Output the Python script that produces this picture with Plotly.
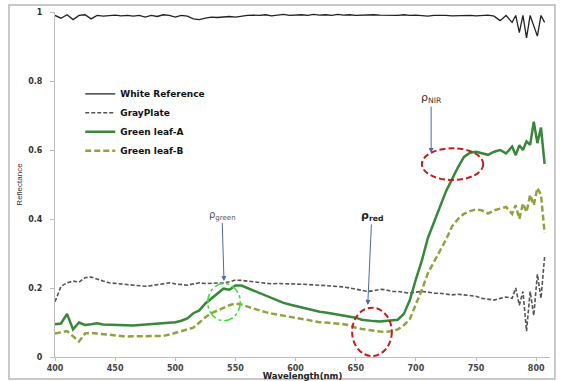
import plotly.graph_objects as go

wavelength = [400, 405, 410, 415, 420, 425, 430, 435, 440, 445, 450, 455, 460, 465, 470, 475,
              480, 485, 490, 495, 500, 505, 510, 515, 520, 525, 530, 535, 540, 545, 550, 555,
              560, 565, 570, 575, 580, 585, 590, 595, 600, 605, 610, 615, 620, 625, 630, 635,
              640, 645, 650, 655, 660, 665, 670, 675, 680, 685, 690, 695, 700, 705, 710, 715,
              720, 725, 730, 735, 740, 745, 750, 755, 760, 765, 770, 775, 780, 783, 786, 789,
              792, 795, 798, 801, 804, 807]

white_reference = [0.99, 0.982, 0.992, 0.978, 0.99, 0.992, 0.98, 0.99, 0.988, 0.99, 0.991, 0.989,
                   0.99, 0.988, 0.99, 0.985, 0.99, 0.987, 0.992, 0.99, 0.985, 0.99, 0.988, 0.98,
                   0.978, 0.982, 0.985, 0.984, 0.986, 0.987, 0.985, 0.988, 0.99, 0.991, 0.99, 0.992,
                   0.989, 0.991, 0.993, 0.99, 0.991, 0.992, 0.99, 0.993, 0.991, 0.992, 0.99, 0.993,
                   0.991, 0.992, 0.99, 0.991, 0.99, 0.992, 0.991, 0.99, 0.991, 0.99, 0.992, 0.99,
                   0.991, 0.99, 0.988, 0.99, 0.991, 0.99, 0.989, 0.99, 0.991, 0.99, 0.989, 0.99,
                   0.991, 0.988, 0.975, 0.99, 0.97, 0.99, 0.94, 0.99, 0.925, 0.99, 0.96, 0.93,
                   0.99, 0.97]

gray_plate = [0.16, 0.205, 0.215, 0.22, 0.217, 0.23, 0.232, 0.225, 0.22, 0.215, 0.213, 0.212,
              0.211, 0.208, 0.206, 0.205, 0.207, 0.21, 0.211, 0.215, 0.212, 0.21, 0.208, 0.212,
              0.215, 0.213, 0.213, 0.214, 0.215, 0.218, 0.223, 0.222, 0.22, 0.218, 0.214, 0.212,
              0.212, 0.213, 0.213, 0.212, 0.212, 0.211, 0.21, 0.21, 0.208, 0.207, 0.206, 0.205,
              0.203, 0.2, 0.197, 0.194, 0.19, 0.192, 0.196, 0.195, 0.19, 0.19, 0.188, 0.185,
              0.188, 0.19, 0.188, 0.185, 0.185, 0.183, 0.18, 0.182, 0.18, 0.178, 0.176, 0.17,
              0.168, 0.165, 0.17, 0.174, 0.17, 0.2, 0.15, 0.19, 0.075, 0.19, 0.12, 0.24,
              0.17, 0.29]

green_leaf_a = [0.095, 0.097, 0.125, 0.08, 0.10, 0.093, 0.095, 0.098, 0.094, 0.093, 0.093, 0.092,
                0.092, 0.091, 0.093, 0.094, 0.095, 0.096, 0.097, 0.10, 0.101, 0.105, 0.112, 0.127,
                0.135, 0.155, 0.17, 0.185, 0.198, 0.195, 0.207, 0.207, 0.2, 0.192, 0.185, 0.178,
                0.17, 0.163, 0.157, 0.152, 0.148, 0.143, 0.138, 0.134, 0.131, 0.129, 0.126, 0.124,
                0.121, 0.118, 0.114, 0.108, 0.105, 0.104, 0.103, 0.104, 0.106, 0.108, 0.125, 0.165,
                0.225, 0.28, 0.345, 0.39, 0.437, 0.48, 0.515, 0.55, 0.58, 0.592, 0.595, 0.59,
                0.586, 0.595, 0.60, 0.59, 0.61, 0.585, 0.614, 0.60, 0.625, 0.615, 0.682, 0.62,
                0.665, 0.56]

green_leaf_b = [0.068, 0.072, 0.075, 0.06, 0.045, 0.068, 0.07, 0.068, 0.066, 0.064, 0.063, 0.061,
                0.059, 0.06, 0.06, 0.06, 0.06, 0.06, 0.061, 0.065, 0.07, 0.074, 0.078, 0.085,
                0.10, 0.115, 0.127, 0.135, 0.143, 0.15, 0.155, 0.152, 0.146, 0.14, 0.134, 0.13,
                0.126, 0.123, 0.12, 0.116, 0.113, 0.11, 0.106, 0.103, 0.101, 0.1, 0.099, 0.097,
                0.095, 0.092, 0.085, 0.081, 0.078, 0.076, 0.074, 0.073, 0.075, 0.08, 0.092, 0.11,
                0.15, 0.195, 0.243, 0.275, 0.305, 0.34, 0.378, 0.4, 0.415, 0.423, 0.428, 0.425,
                0.416, 0.425, 0.43, 0.435, 0.415, 0.44, 0.40, 0.445, 0.42, 0.47, 0.44, 0.49,
                0.47, 0.36]

x_ticks = [400, 450, 500, 550, 600, 650, 700, 750, 800]
y_ticks = [0, 0.2, 0.4, 0.6, 0.8, 1]
y_tick_labels = ["0", "0.2", "0.4", "0.6", "0.8", "1"]

FONT = "DejaVu Sans"

fig = go.Figure()
fig.add_trace(go.Scatter(x=wavelength, y=white_reference, mode="lines", name="<b>White Reference</b>",
                         line=dict(color="#222222", width=1.3)))
fig.add_trace(go.Scatter(x=wavelength, y=gray_plate, mode="lines", name="<b>GrayPlate</b>",
                         line=dict(color="#555555", width=1.6, dash="4px,2px")))
fig.add_trace(go.Scatter(x=wavelength, y=green_leaf_a, mode="lines", name="<b>Green leaf-A</b>",
                         line=dict(color="#38873a", width=2.5)))
fig.add_trace(go.Scatter(x=wavelength, y=green_leaf_b, mode="lines", name="<b>Green leaf-B</b>",
                         line=dict(color="#8ea43e", width=2.5, dash="6px,3px")))

shapes = [
    # outer border
    dict(type="rect", xref="paper", yref="paper", x0=-0.093, x1=1.010, y0=-0.064, y1=1.020,
         line=dict(color="#b8b8b8", width=1.5), layer="below"),
    # NIR ellipse
    dict(type="circle", xref="x", yref="y", x0=705, x1=756, y0=0.513, y1=0.605,
         line=dict(color="#cc1a1a", width=2, dash="6px,3px")),
    # red ellipse
    dict(type="circle", xref="x", yref="y", x0=647, x1=680, y0=0.003, y1=0.143,
         line=dict(color="#cc1a1a", width=2, dash="6px,3px")),
    # green ellipse
    dict(type="circle", xref="x", yref="y", x0=527, x1=554, y0=0.105, y1=0.213,
         line=dict(color="#3fdc3f", width=1.6, dash="dashdot")),
]

arrow_color = "#4d6aa3"
annotations = [
    dict(x=712.7, y=0.591, xref="x", yref="y", text="ρ<sub>NIR</sub>", showarrow=True,
         ax=0, ay=-55, arrowhead=2, arrowsize=1, arrowwidth=1, arrowcolor=arrow_color,
         font=dict(family=FONT, size=11, color="#333333")),
    dict(x=660, y=0.151, xref="x", yref="y", text="<b>ρ<sub>red</sub></b>", showarrow=True,
         ax=4, ay=-89, arrowhead=2, arrowsize=1, arrowwidth=1, arrowcolor=arrow_color,
         font=dict(family=FONT, size=11, color="#222222")),
    dict(x=540.5, y=0.22, xref="x", yref="y", text="ρ<sub>green</sub>", showarrow=True,
         ax=-2, ay=-66, arrowhead=2, arrowsize=1, arrowwidth=1, arrowcolor=arrow_color,
         font=dict(family=FONT, size=10, color="#555555")),
]

fig.update_layout(
    width=564, height=381,
    margin=dict(l=55, r=14, t=12, b=24),
    paper_bgcolor="white", plot_bgcolor="white",
    font=dict(family=FONT, color="#222222"),
    shapes=shapes, annotations=annotations,
    legend=dict(x=0.051, y=0.805, xanchor="left", yanchor="top", bgcolor="rgba(0,0,0,0)",
                font=dict(family=FONT, size=9, color="#111111"), itemwidth=30,
                tracegroupgap=0),
    xaxis=dict(range=[400, 811.5], tickvals=x_ticks, ticktext=["<b>%d</b>" % v for v in x_ticks],
               automargin=False,
               showgrid=False, zeroline=False, showline=True, linecolor="#bdbdbd", linewidth=1,
               ticks="outside", ticklen=3, tickcolor="#bdbdbd",
               tickfont=dict(family=FONT, size=8, color="#444444"),
               title=dict(text="<b>Wavelength(nm)</b>", font=dict(family=FONT, size=8.5, color="#222222"),
                          standoff=1)),
    yaxis=dict(range=[0, 1.0], tickvals=y_ticks, ticktext=["<b>%s</b>" % t for t in y_tick_labels],
               automargin=False,
               showgrid=False, zeroline=False, showline=True, linecolor="#bdbdbd", linewidth=1,
               ticks="outside", ticklen=4, tickcolor="#bdbdbd", ticklabelstandoff=6,
               tickfont=dict(family=FONT, size=8, color="#333333"),
               title=dict(text="Reflectance", font=dict(family="Liberation Sans Narrow, Liberation Sans", size=8, color="#333333"),
                          standoff=4)),
)

fig.write_html("out.html", config={"displayModeBar": False},
               post_script="document.body.style.margin='0';document.body.style.overflow='hidden';")
